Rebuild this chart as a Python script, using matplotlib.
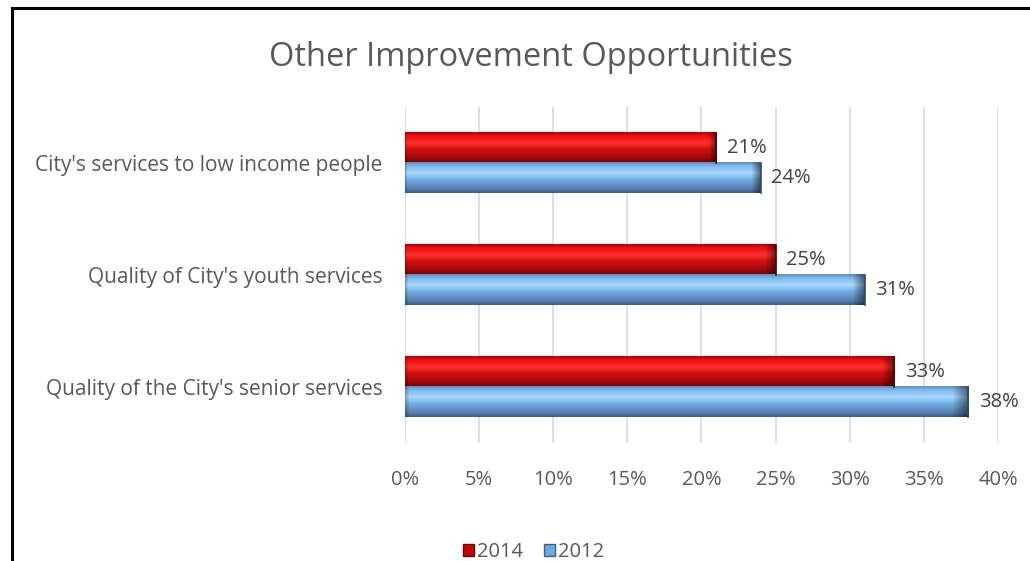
import matplotlib.pyplot as plt
import numpy as np
from matplotlib.patches import Patch
from matplotlib.lines import Line2D

categories = ["City's services to low income people",
              "Quality of City's youth services",
              "Quality of the City's senior services"]
series_names = ["2014", "2012"]
values_2014 = [0.21, 0.25, 0.33]
values_2012 = [0.24, 0.31, 0.38]
xticks = [0, 0.05, 0.10, 0.15, 0.20, 0.25, 0.30, 0.35, 0.40]

plt.rcParams['font.family'] = ['Open Sans', 'DejaVu Sans']
TXT = '#595959'


def bevel_image(profile, ncols, end_frac=0.03):
    # vertical shading profile, darkened towards both ends of the bar
    prof = np.array(profile, dtype=float)
    img = np.repeat(prof[:, None, :], ncols, axis=1)
    nend = max(2, int(ncols * end_frac))
    ramp = np.linspace(0.5, 1.0, nend)
    img[:, -nend:, :] *= ramp[::-1][None, :, None]
    nl = max(1, nend // 3)
    img[:, :nl, :] *= np.linspace(0.75, 1.0, nl)[None, :, None]
    return np.clip(img, 0, 1)


def make_profile(stops, n=60):
    pos = np.array([s[0] for s in stops])
    cols = np.array([plt.matplotlib.colors.to_rgb(s[1]) for s in stops])
    t = np.linspace(0, 1, n)
    return np.stack([np.interp(t, pos, cols[:, k]) for k in range(3)], axis=1)


red_prof = make_profile([(0.0, '#c00000'), (0.12, '#e81010'), (0.35, '#ff3030'),
                         (0.55, '#d41010'), (0.85, '#a00808'), (1.0, '#700000')])
blue_prof = make_profile([(0.0, '#5d8fc4'), (0.12, '#7fb6ea'), (0.35, '#a6daff'),
                          (0.55, '#78b0e6'), (0.85, '#5582b4'), (1.0, '#3c5f88')])

fig = plt.figure(figsize=(10.30, 5.61), dpi=100)
ax = fig.add_axes([0.393, 0.210, 0.576, 0.599])

y = np.arange(len(categories))
h = 0.27
bars_a = ax.barh(y - h / 2, values_2014, height=h, color='#d01010', zorder=2)
bars_b = ax.barh(y + h / 2, values_2012, height=h, color='#6fa8dc', zorder=2)

for bars, prof, edge in [(bars_a, red_prof, '#600000'), (bars_b, blue_prof, '#2e4a6a')]:
    for b in bars:
        x0, y0 = b.get_x(), b.get_y()
        w, hh = b.get_width(), b.get_height()
        img = bevel_image(prof, int(w * 1500))
        # image row 0 sits at the top of the bar (y axis is inverted)
        ax.imshow(img, extent=[x0, x0 + w, y0 + hh, y0], aspect='auto',
                  interpolation='bilinear', zorder=3, clip_path=b, clip_on=True)
        ax.plot([x0 + w, x0 + w], [y0, y0 + hh], color=edge, lw=1.2, zorder=4)

for bars, vals in [(bars_a, values_2014), (bars_b, values_2012)]:
    for b, v in zip(bars, vals):
        ax.text(v + 0.007, b.get_y() + b.get_height() / 2, f"{v * 100:.0f}%",
                va='center', ha='left', fontsize=14.5, color='#404040', zorder=5)

ax.set_xlim(0, 0.40)
ax.set_ylim(len(categories) - 0.5, -0.5)
ax.set_xticks(xticks)
ax.set_xticklabels([f"{t * 100:.0f}%" for t in xticks], fontsize=14.5, color=TXT)
ax.set_yticks(y)
ax.set_yticklabels(categories, fontsize=15, color=TXT)
ax.tick_params(axis='x', length=0, pad=19)
ax.tick_params(axis='y', length=0, pad=16)
ax.grid(axis='x', color='#d9d9d9', lw=1.2, zorder=0)
ax.set_axisbelow(True)
for s in ax.spines.values():
    s.set_visible(False)

fig.text(0.515, 0.898, "Other Improvement Opportunities", ha='center', va='center',
         fontsize=23.5, color=TXT)

handles = [Patch(facecolor='#c00808', edgecolor='#800000'),
           Patch(facecolor='#6fa8dc', edgecolor='#3c5f88')]
fig.legend(handles, series_names, loc='center', bbox_to_anchor=(0.518, 0.016),
           ncol=2, frameon=False, fontsize=14.5, handlelength=0.55, handleheight=0.55,
           handletextpad=0.15, columnspacing=1.0, labelcolor=TXT, borderpad=0.0)

# outer chart frame (top and left edges)
fig.add_artist(Line2D([0.012, 1.0], [0.986, 0.986], color='black', lw=2.2,
                      transform=fig.transFigure))
fig.add_artist(Line2D([0.012, 0.012], [0.0, 0.986], color='black', lw=2.2,
                      transform=fig.transFigure))

fig.savefig('out.png', dpi=100)
